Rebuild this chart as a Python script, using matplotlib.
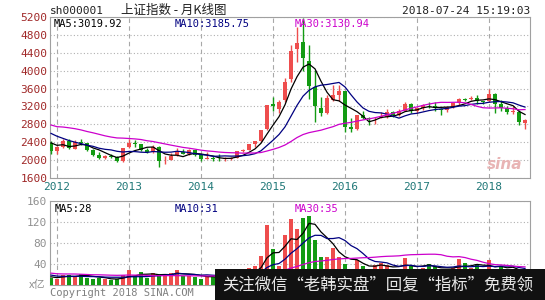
import matplotlib
matplotlib.use("Agg")
import matplotlib.pyplot as plt
import numpy as np
import pandas as pd

# monthly K-line, Dec 2011 .. Jul 2018
opens = [2383, 2212, 2286, 2427, 2252, 2399, 2372, 2219, 2105, 2046, 2095, 2069, 1979,
         2289, 2389, 2360, 2226, 2174, 2302, 1992, 1995, 2104, 2181, 2142, 2221,
         2112, 2034, 2057, 2035, 2024, 2036, 2050, 2203, 2220, 2364, 2424, 2690,
         3258, 3148, 3336, 3811, 4480, 4633, 4214, 3643, 3157, 3052, 3337, 3456,
         3536, 2730, 2688, 3001, 2945, 2913, 2931, 2973, 3086, 3002, 3102, 3247,
         3105, 3157, 3236, 3219, 3148, 3116, 3193, 3271, 3357, 3361, 3396, 3311,
         3314, 3478, 3254, 3163, 3069, 3084, 2830]
highs = [2431, 2319, 2478, 2478, 2454, 2461, 2381, 2242, 2177, 2108, 2133, 2082, 2276,
         2478, 2444, 2362, 2268, 2334, 2315, 2092, 2149, 2270, 2243, 2243, 2226,
         2136, 2177, 2085, 2146, 2063, 2063, 2208, 2248, 2371, 2437, 2683, 3239,
         3406, 3347, 3835, 4572, 4986, 5178, 4572, 4006, 3411, 3452, 3678, 3684,
         3539, 2934, 3018, 3097, 2953, 2960, 3070, 3140, 3101, 3134, 3301, 3283,
         3175, 3261, 3301, 3296, 3164, 3193, 3276, 3379, 3393, 3423, 3451, 3325,
         3587, 3495, 3334, 3220, 3219, 3128, 2915]
lows = [2134, 2132, 2266, 2242, 2242, 2336, 2211, 2092, 2032, 2021, 2057, 1959, 1949,
        2262, 2300, 2209, 2162, 2163, 1849, 1922, 1992, 2096, 2131, 2124, 2096,
        1984, 2030, 1974, 1991, 1991, 2011, 2043, 2178, 2217, 2286, 2404, 2676,
        3095, 3049, 3303, 3749, 4199, 4002, 3374, 2851, 2983, 3040, 3313, 3327,
        2638, 2638, 2678, 2922, 2781, 2808, 2931, 2950, 2969, 2996, 3101, 3056,
        3044, 3123, 3167, 3097, 3016, 3081, 3167, 3229, 3315, 3337, 3249, 3254,
        3307, 3062, 3091, 3041, 3041, 2782, 2691]
closes = [2199.42, 2292.61, 2428.49, 2262.79, 2396.32, 2372.23, 2225.43, 2103.63, 2047.52,
          2086.17, 2068.88, 1980.12, 2269.13,
          2385.42, 2365.59, 2236.62, 2177.91, 2300.59, 1979.21, 1993.80, 2098.38, 2174.67,
          2141.61, 2220.50, 2115.98,
          2033.08, 2056.30, 2033.31, 2026.36, 2039.21, 2048.33, 2201.56, 2217.20, 2363.87,
          2420.18, 2682.83, 3234.68,
          3210.36, 3310.30, 3747.90, 4441.66, 4611.74, 4277.22, 3663.73, 3205.99, 3052.78,
          3382.56, 3445.40, 3539.18,
          2737.60, 2687.98, 3003.92, 2938.32, 2916.62, 2929.61, 2979.34, 3085.49, 3004.70,
          3100.49, 3250.03, 3103.64,
          3159.17, 3241.73, 3222.51, 3154.66, 3117.18, 3192.43, 3273.03, 3360.81, 3348.94,
          3393.34, 3317.19, 3307.17,
          3480.83, 3259.41, 3168.90, 3082.23, 3095.47, 2847.42, 2905.56]
volumes = [13, 11, 20, 20, 17, 21, 13, 12, 13, 11, 10, 11, 20,
           28, 18, 24, 13, 23, 20, 20, 22, 28, 17, 18, 15,
           12, 18, 16, 14, 12, 13, 20, 22, 32, 36, 55, 114,
           69, 36, 95, 126, 107, 128, 131, 86, 53, 53, 70, 53,
           40, 30, 48, 36, 27, 38, 42, 38, 27, 30, 52, 38,
           28, 33, 40, 36, 27, 27, 32, 50, 42, 32, 40, 25,
           48, 28, 36, 27, 30, 25, 24]

# history before the window, only used for the moving averages (Jul 2009 .. Nov 2011)
prior_closes = [3412.06, 2667.74, 2779.43, 2995.85, 3195.30, 3277.14, 2989.29, 3051.94,
                3109.10, 2870.61, 2592.15, 2398.37, 2637.50, 2638.80, 2655.66, 2978.84,
                2820.18, 2808.08, 2790.69, 2905.05, 2928.11, 2911.51, 2743.47, 2762.08,
                2701.73, 2567.34, 2359.22, 2468.25, 2333.41]
prior_volumes = [45, 32, 22, 18, 35, 27, 27, 15, 22, 22, 18, 13, 17, 25, 19, 35, 36, 22,
                 18, 20, 30, 25, 19, 17, 20, 19, 13, 15, 18]

year_labels = ["2012", "2013", "2014", "2015", "2016", "2017", "2018"]
year_pos = [1, 13, 25, 37, 49, 61, 73]

price_ticks = [1600, 2000, 2400, 2800, 3200, 3600, 4000, 4400, 4800, 5200]
vol_ticks = [40, 80, 120, 160]

ma_periods = [5, 10, 30]
ma_colors = ["black", "#000080", "#cc00cc"]

RED = "#ee4d4d"
GREEN = "#139b13"

n = len(closes)
x = np.arange(n)
o = np.array(opens, float)
c = np.array(closes, float)
up = c >= o
cols = [RED if u else GREEN for u in up]

all_c = pd.Series(prior_closes + closes)
all_v = pd.Series(prior_volumes + volumes)
np_ = len(prior_closes)

mono = "DejaVu Sans Mono"
fig = plt.figure(figsize=(5.45, 3.0), dpi=100)
fig.patch.set_facecolor("white")

ax = fig.add_axes([50 / 545, 1 - 178 / 300, 480 / 545, 161 / 300])
ax2 = fig.add_axes([50 / 545, 1 - 285 / 300, 480 / 545, 84 / 300])

xlim = (-0.17, 79.83)

# candles
body_lo = np.minimum(o, c)
body_h = np.maximum(np.abs(c - o), 8)
ax.vlines(x, lows, highs, colors=cols, linewidth=1, zorder=3)
ax.bar(x, body_h, bottom=body_lo, width=0.7, color=cols, linewidth=0, zorder=4)

for p, col in zip(ma_periods, ma_colors):
    ma = all_c.rolling(p).mean().values[np_:]
    ax.plot(x, ma, color=col, linewidth=0.9, zorder=5)

ax.set_xlim(*xlim)
ax.set_ylim(1600, 5200)
ax.set_yticks(price_ticks)
ax.set_yticklabels([str(t) for t in price_ticks], fontfamily=mono, fontsize=8, color="#a02828")
ax.set_xticks(year_pos)
ax.set_xticklabels(year_labels, fontfamily=mono, fontsize=8, color="#207878")
ax.tick_params(axis="y", length=0, pad=2)
ax.tick_params(axis="x", length=0, pad=3)
ax.grid(axis="y", linestyle=(0, (1, 2)), color="#b0b0b0", linewidth=0.8)
ax.grid(axis="x", linestyle=(0, (4, 3)), color="#a8a8a8", linewidth=0.8)
for s in ax.spines.values():
    s.set_color("#a0a0a0")

ax.text(0.007, 0.985, "MA5:3019.92", transform=ax.transAxes, va="top", ha="left",
        fontfamily=mono, fontsize=7.5, color="black")
ax.text(0.26, 0.985, "MA10:3185.75", transform=ax.transAxes, va="top", ha="left",
        fontfamily=mono, fontsize=7.5, color="#000080")
ax.text(0.51, 0.985, "MA30:3130.94", transform=ax.transAxes, va="top", ha="left",
        fontfamily=mono, fontsize=7.5, color="#cc00cc")
ax.text(0.985, 0.04, "sina", transform=ax.transAxes, va="bottom", ha="right",
        fontsize=11, fontweight="bold", fontstyle="italic", color="#e8b4b4")

# volume
ax2.bar(x, volumes, width=0.75, color=cols, linewidth=0, zorder=3)
for p, col in zip(ma_periods, ma_colors):
    ma = all_v.rolling(p).mean().values[np_:]
    ax2.plot(x, ma, color=col, linewidth=0.9, zorder=4)
ax2.set_xlim(*xlim)
ax2.set_ylim(0, 160)
ax2.set_yticks(vol_ticks)
ax2.set_yticklabels([str(t) for t in vol_ticks], fontfamily=mono, fontsize=8, color="#909090")
ax2.set_xticks(year_pos)
ax2.set_xticklabels([])
ax2.tick_params(length=0, pad=2)
ax2.grid(axis="y", linestyle=(0, (1, 2)), color="#b0b0b0", linewidth=0.8)
ax2.grid(axis="x", linestyle=(0, (4, 3)), color="#a8a8a8", linewidth=0.8)
for s in ax2.spines.values():
    s.set_color("#a0a0a0")

ax2.text(0.01, 0.97, "MA5:28", transform=ax2.transAxes, va="top", ha="left",
         fontfamily=mono, fontsize=7.5, color="black")
ax2.text(0.26, 0.97, "MA10:31", transform=ax2.transAxes, va="top", ha="left",
         fontfamily=mono, fontsize=7.5, color="#000080")
ax2.text(0.51, 0.97, "MA30:35", transform=ax2.transAxes, va="top", ha="left",
         fontfamily=mono, fontsize=7.5, color="#cc00cc")

# header / footer texts
fig.text(50 / 545, 1 - 11 / 300, "sh000001", va="center", ha="left",
         fontfamily=mono, fontsize=8, color="#202020")
fig.text(121 / 545, 1 - 10 / 300, "上证指数 - 月K线图", va="center", ha="left",
         family=["Noto Sans CJK SC", "DejaVu Sans"], fontsize=9, color="#202020")
fig.text(530 / 545, 1 - 11 / 300, "2018-07-24 15:19:03", va="center", ha="right",
         fontfamily=mono, fontsize=8, color="#202020")
fig.text(45 / 545, 1 - 285 / 300, "x亿", va="center", ha="right",
         family=["Noto Sans CJK SC", "DejaVu Sans"], fontsize=8, color="#909090")
fig.text(50 / 545, 1 - 293 / 300, "Copyright 2018 SINA.COM", va="center", ha="left",
         fontfamily=mono, fontsize=7.5, color="#808080")

# ad banner over the bottom right
fig.patches.append(plt.Rectangle((215 / 545, 0), 330 / 545, 31 / 300, transform=fig.transFigure,
                                 facecolor="#111111", edgecolor="none", zorder=10))
fig.text(222 / 545, 1 - 285 / 300, "关注微信\u201c老韩实盘\u201d回复\u201c指标\u201d免费领",
         va="center", ha="left", family=["Noto Sans CJK SC", "DejaVu Sans"],
         fontsize=11.8, color="#e8e8e8", zorder=11)

fig.savefig("out.png", dpi=100, facecolor="white")
